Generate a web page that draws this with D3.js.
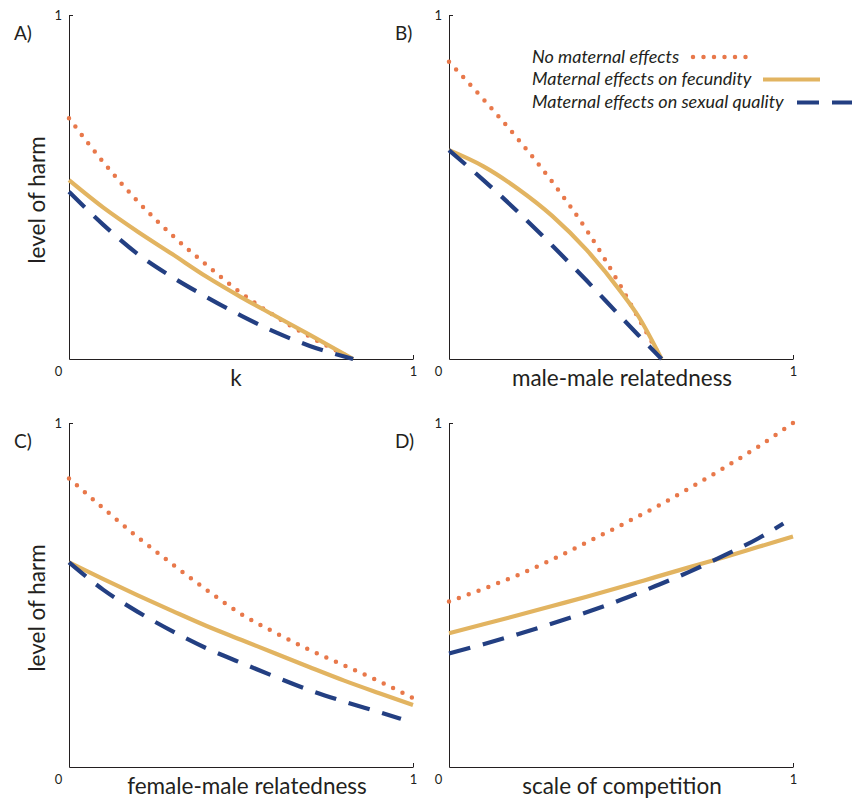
<!DOCTYPE html>
<html>
<head>
<meta charset="utf-8">
<script src="https://cdn.jsdelivr.net/npm/d3@7"></script>
<style>
  body { margin: 0; background: #fff; }
  svg { display: block; font-family: Lato, "Open Sans", sans-serif; }
</style>
</head>
<body>
<div id="chart"></div>
<script>
// A) harm vs k
const kX = [0, 0.1, 0.2, 0.3, 0.4, 0.5, 0.6, 0.7, 0.826];
const kNone = [0.70, 0.572, 0.458, 0.36, 0.273, 0.192, 0.124, 0.065, 0];
const kFecundity = [0.52, 0.44, 0.37, 0.305, 0.239, 0.18, 0.125, 0.07, 0];
const kSexual = [0.486, 0.39, 0.305, 0.238, 0.18, 0.126, 0.078, 0.038, 0];

// B) harm vs male-male relatedness
const mmX = [0, 0.1, 0.2, 0.3, 0.4, 0.5, 0.55, 0.618];
const mmNone = [0.864, 0.755, 0.64, 0.515, 0.375, 0.21, 0.12, 0];
const mmFecundity = [0.607, 0.56, 0.495, 0.416, 0.317, 0.195, 0.125, 0];
const mmSexual = [0.607, 0.52, 0.428, 0.33, 0.228, 0.122, 0.07, 0];

// C) harm vs female-male relatedness
const fmX = [0, 0.1, 0.2, 0.3, 0.4, 0.5, 0.6, 0.7, 0.8, 0.9, 1];
const fmNone = [0.839, 0.752, 0.668, 0.59, 0.515, 0.445, 0.39, 0.34, 0.295, 0.25, 0.2];
const fmFecundity = [0.595, 0.546, 0.499, 0.454, 0.41, 0.37, 0.33, 0.29, 0.251, 0.215, 0.18];
const fmSexualX = [0, 0.1, 0.2, 0.3, 0.4, 0.5, 0.6, 0.7, 0.8, 0.9, 0.965];
const fmSexual = [0.595, 0.515, 0.451, 0.395, 0.345, 0.303, 0.262, 0.223, 0.19, 0.16, 0.14];

// D) harm vs scale of competition
const scX = [0, 0.1, 0.2, 0.3, 0.4, 0.5, 0.6, 0.7, 0.8, 0.9, 1];
const scNone = [0.481, 0.518, 0.558, 0.603, 0.653, 0.703, 0.755, 0.811, 0.87, 0.932, 1.0];
const scFecundity = [0.389, 0.415, 0.441, 0.468, 0.495, 0.523, 0.552, 0.581, 0.61, 0.64, 0.670];
const scSexualX = [0, 0.1, 0.2, 0.3, 0.4, 0.5, 0.6, 0.7, 0.8, 0.9, 0.972];
const scSexual = [0.330, 0.357, 0.386, 0.417, 0.45, 0.486, 0.526, 0.568, 0.615, 0.665, 0.708];

const seriesNames = ["No maternal effects", "Maternal effects on fecundity", "Maternal effects on sexual quality"];
const panelLetters = ["A)", "B)", "C)", "D)"];
const xTitles = ["k", "male-male relatedness", "female-male relatedness", "scale of competition"];
const yTitle = "level of harm";

const colors = { none: "#e8784a", fec: "#e2b461", sex: "#233f82" };
const ink = "#231f20";

const W = 852, H = 810;
const size = 344;
const panels = [
  { left: 69, top: 15, letter: panelLetters[0], title: xTitles[0], titleX: 236, yTitle: true,
    series: [[kX, kNone], [kX, kFecundity], [kX, kSexual]] },
  { left: 449, top: 15, letter: panelLetters[1], title: xTitles[1], titleX: 622, yTitle: false,
    series: [[mmX, mmNone], [mmX, mmFecundity], [mmX, mmSexual]] },
  { left: 69, top: 423, letter: panelLetters[2], title: xTitles[2], titleX: 247, yTitle: true,
    series: [[fmX, fmNone], [fmX, fmFecundity], [fmSexualX, fmSexual]] },
  { left: 449, top: 423, letter: panelLetters[3], title: xTitles[3], titleX: 622, yTitle: false,
    series: [[scX, scNone], [scX, scFecundity], [scSexualX, scSexual]] }
];

const styles = [
  { color: colors.none, width: 4.5, dash: "0 10.5", cap: "round" },
  { color: colors.fec, width: 4.2, dash: null, cap: "butt" },
  { color: colors.sex, width: 4.2, dash: "22 13", cap: "butt" }
];

const svg = d3.select("#chart").append("svg")
  .attr("width", W).attr("height", H)
  .attr("viewBox", `0 0 ${W} ${H}`);

const x = d3.scaleLinear().domain([0, 1]).range([0, size]);
const y = d3.scaleLinear().domain([0, 1]).range([size, 0]);

const line = d3.line()
  .x(d => x(d[0]))
  .y(d => y(d[1]))
  .curve(d3.curveMonotoneX);

panels.forEach((p, i) => {
  const g = svg.append("g").attr("transform", `translate(${p.left},${p.top})`);

  // axes, ticks only at 0 and 1
  const yAxis = g.append("g")
    .call(d3.axisLeft(y).tickValues([1]).tickFormat(d3.format("d"))
      .tickSizeInner(-4).tickSizeOuter(0).tickPadding(7));
  const xAxis = g.append("g")
    .attr("transform", `translate(0,${size})`)
    .call(d3.axisBottom(x).tickValues([0, 1]).tickFormat(d3.format("d"))
      .tickSizeInner(-4).tickSizeOuter(0).tickPadding(8));

  [yAxis, xAxis].forEach(a => {
    a.select(".domain").attr("stroke", ink).attr("stroke-width", 1);
    a.selectAll(".tick line").attr("stroke", ink).attr("stroke-width", 1);
    a.selectAll(".tick text").attr("fill", ink).style("font-size", "13px")
      .style("font-family", "Lato, sans-serif");
  });
  xAxis.selectAll(".tick text").filter(d => d === 0).attr("x", -11);

  // series
  p.series.forEach((s, j) => {
    const pts = s[0].map((v, k) => [v, s[1][k]]);
    const st = styles[j];
    g.append("path")
      .datum(pts)
      .attr("fill", "none")
      .attr("stroke", st.color)
      .attr("stroke-width", st.width)
      .attr("stroke-linecap", st.cap)
      .attr("stroke-dasharray", st.dash)
      .attr("d", line);
  });

  // panel letter
  svg.append("text")
    .attr("x", i % 2 === 0 ? 14 : 395)
    .attr("y", p.top + 25)
    .attr("fill", ink)
    .style("font-size", "19px")
    .text(p.letter);

  // x title
  svg.append("text")
    .attr("x", p.titleX)
    .attr("y", p.top + 371)
    .attr("text-anchor", "middle")
    .attr("fill", ink)
    .style("font-size", "22.5px")
    .text(p.title);

  // y title
  if (p.yTitle) {
    svg.append("text")
      .attr("transform", `translate(45,${p.top + 185}) rotate(-90)`)
      .attr("text-anchor", "middle")
      .attr("fill", ink)
      .style("font-size", "22.5px")
      .text(yTitle);
  }
});

// legend
const legend = svg.append("g");
const legendRows = [
  { y: 57, x1: 693, x2: 750 },
  { y: 79.5, x1: 763, x2: 820 },
  { y: 102.5, x1: 797, x2: 880 }
];
seriesNames.forEach((name, j) => {
  const r = legendRows[j];
  legend.append("text")
    .attr("x", 532)
    .attr("y", r.y + 5.5)
    .attr("fill", ink)
    .style("font-size", "18px")
    .style("font-style", "italic")
    .text(name);
  const st = styles[j];
  legend.append("line")
    .attr("x1", r.x1).attr("x2", r.x2)
    .attr("y1", r.y).attr("y2", r.y)
    .attr("stroke", st.color)
    .attr("stroke-width", st.width)
    .attr("stroke-linecap", st.cap)
    .attr("stroke-dasharray", st.dash);
});
</script>
</body>
</html>
